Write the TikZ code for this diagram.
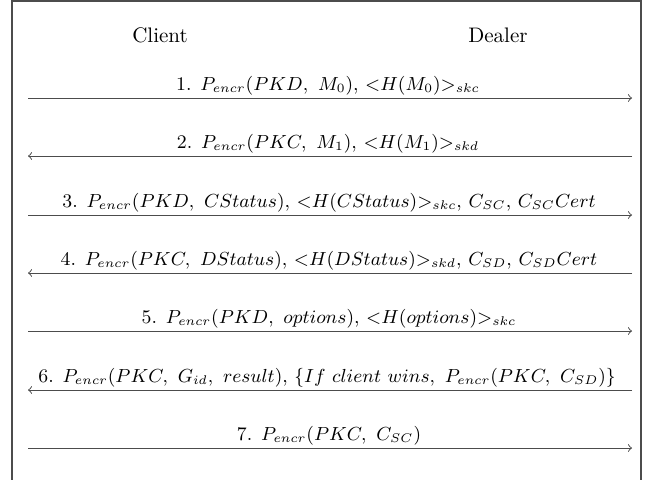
\documentclass[tikz,border=0pt]{standalone}
\usetikzlibrary{arrows}
\begin{document}
\begin{tikzpicture}[x=0.4757pt,y=-0.4757pt,
  msg/.style={draw=black!70,line width=0.45pt,-to},
  lbl/.style={anchor=base,inner sep=0pt,font=\fontsize{9.15}{11}\selectfont},
  hdr/.style={anchor=base,inner sep=0pt}]
\useasboundingbox (0,0) rectangle (656,479);
\draw[black!70,line width=0.6pt] (12,480) -- (12,1) -- (641,1) -- (641,480);
\node[hdr] (client) at (160,42) {Client};
\node[hdr] (dealer) at (498,42) {Dealer};
\coordinate (L1) at (28,98);  \coordinate (R1) at (632,98);
\coordinate (L2) at (28,156); \coordinate (R2) at (632,156);
\coordinate (L3) at (28,215); \coordinate (R3) at (632,215);
\coordinate (L4) at (28,273); \coordinate (R4) at (632,273);
\coordinate (L5) at (28,331); \coordinate (R5) at (632,331);
\coordinate (L6) at (28,390); \coordinate (R6) at (632,390);
\coordinate (L7) at (28,448); \coordinate (R7) at (632,448);
\draw[msg] (L1) -- (R1);
\draw[msg] (R2) -- (L2);
\draw[msg] (L3) -- (R3);
\draw[msg] (R4) -- (L4);
\draw[msg] (L5) -- (R5);
\draw[msg] (R6) -- (L6);
\draw[msg] (L7) -- (R7);
\node[lbl] (m1) at (328,90) {1. $P_{encr}(PKD,\ M_0)$, ${<}H(M_0){>}_{skc}$};
\node[lbl] (m2) at (328,148) {2. $P_{encr}(PKC,\ M_1)$, ${<}H(M_1){>}_{skd}$};
\node[lbl] (m3) at (329,207) {3. $P_{encr}(PKD,\ CStatus)$, ${<}H(CStatus){>}_{skc}$, $C_{SC}$, $C_{SC}Cert$};
\node[lbl] (m4) at (329,265) {4. $P_{encr}(PKC,\ DStatus)$, ${<}H(DStatus){>}_{skd}$, $C_{SD}$, $C_{SD}Cert$};
\node[lbl] (m5) at (329,323) {5. $P_{encr}(PKD,\ options)$, ${<}H(options){>}_{skc}$};
\node[lbl] (m6) at (327,382) {6. $P_{encr}(PKC,\ G_{id},\ result)$, $\{If\ client\ wins,\ P_{encr}(PKC,\ C_{SD})\}$};
\node[lbl] (m7) at (329,440) {7. $P_{encr}(PKC,\ C_{SC})$};
\end{tikzpicture}
\end{document}
